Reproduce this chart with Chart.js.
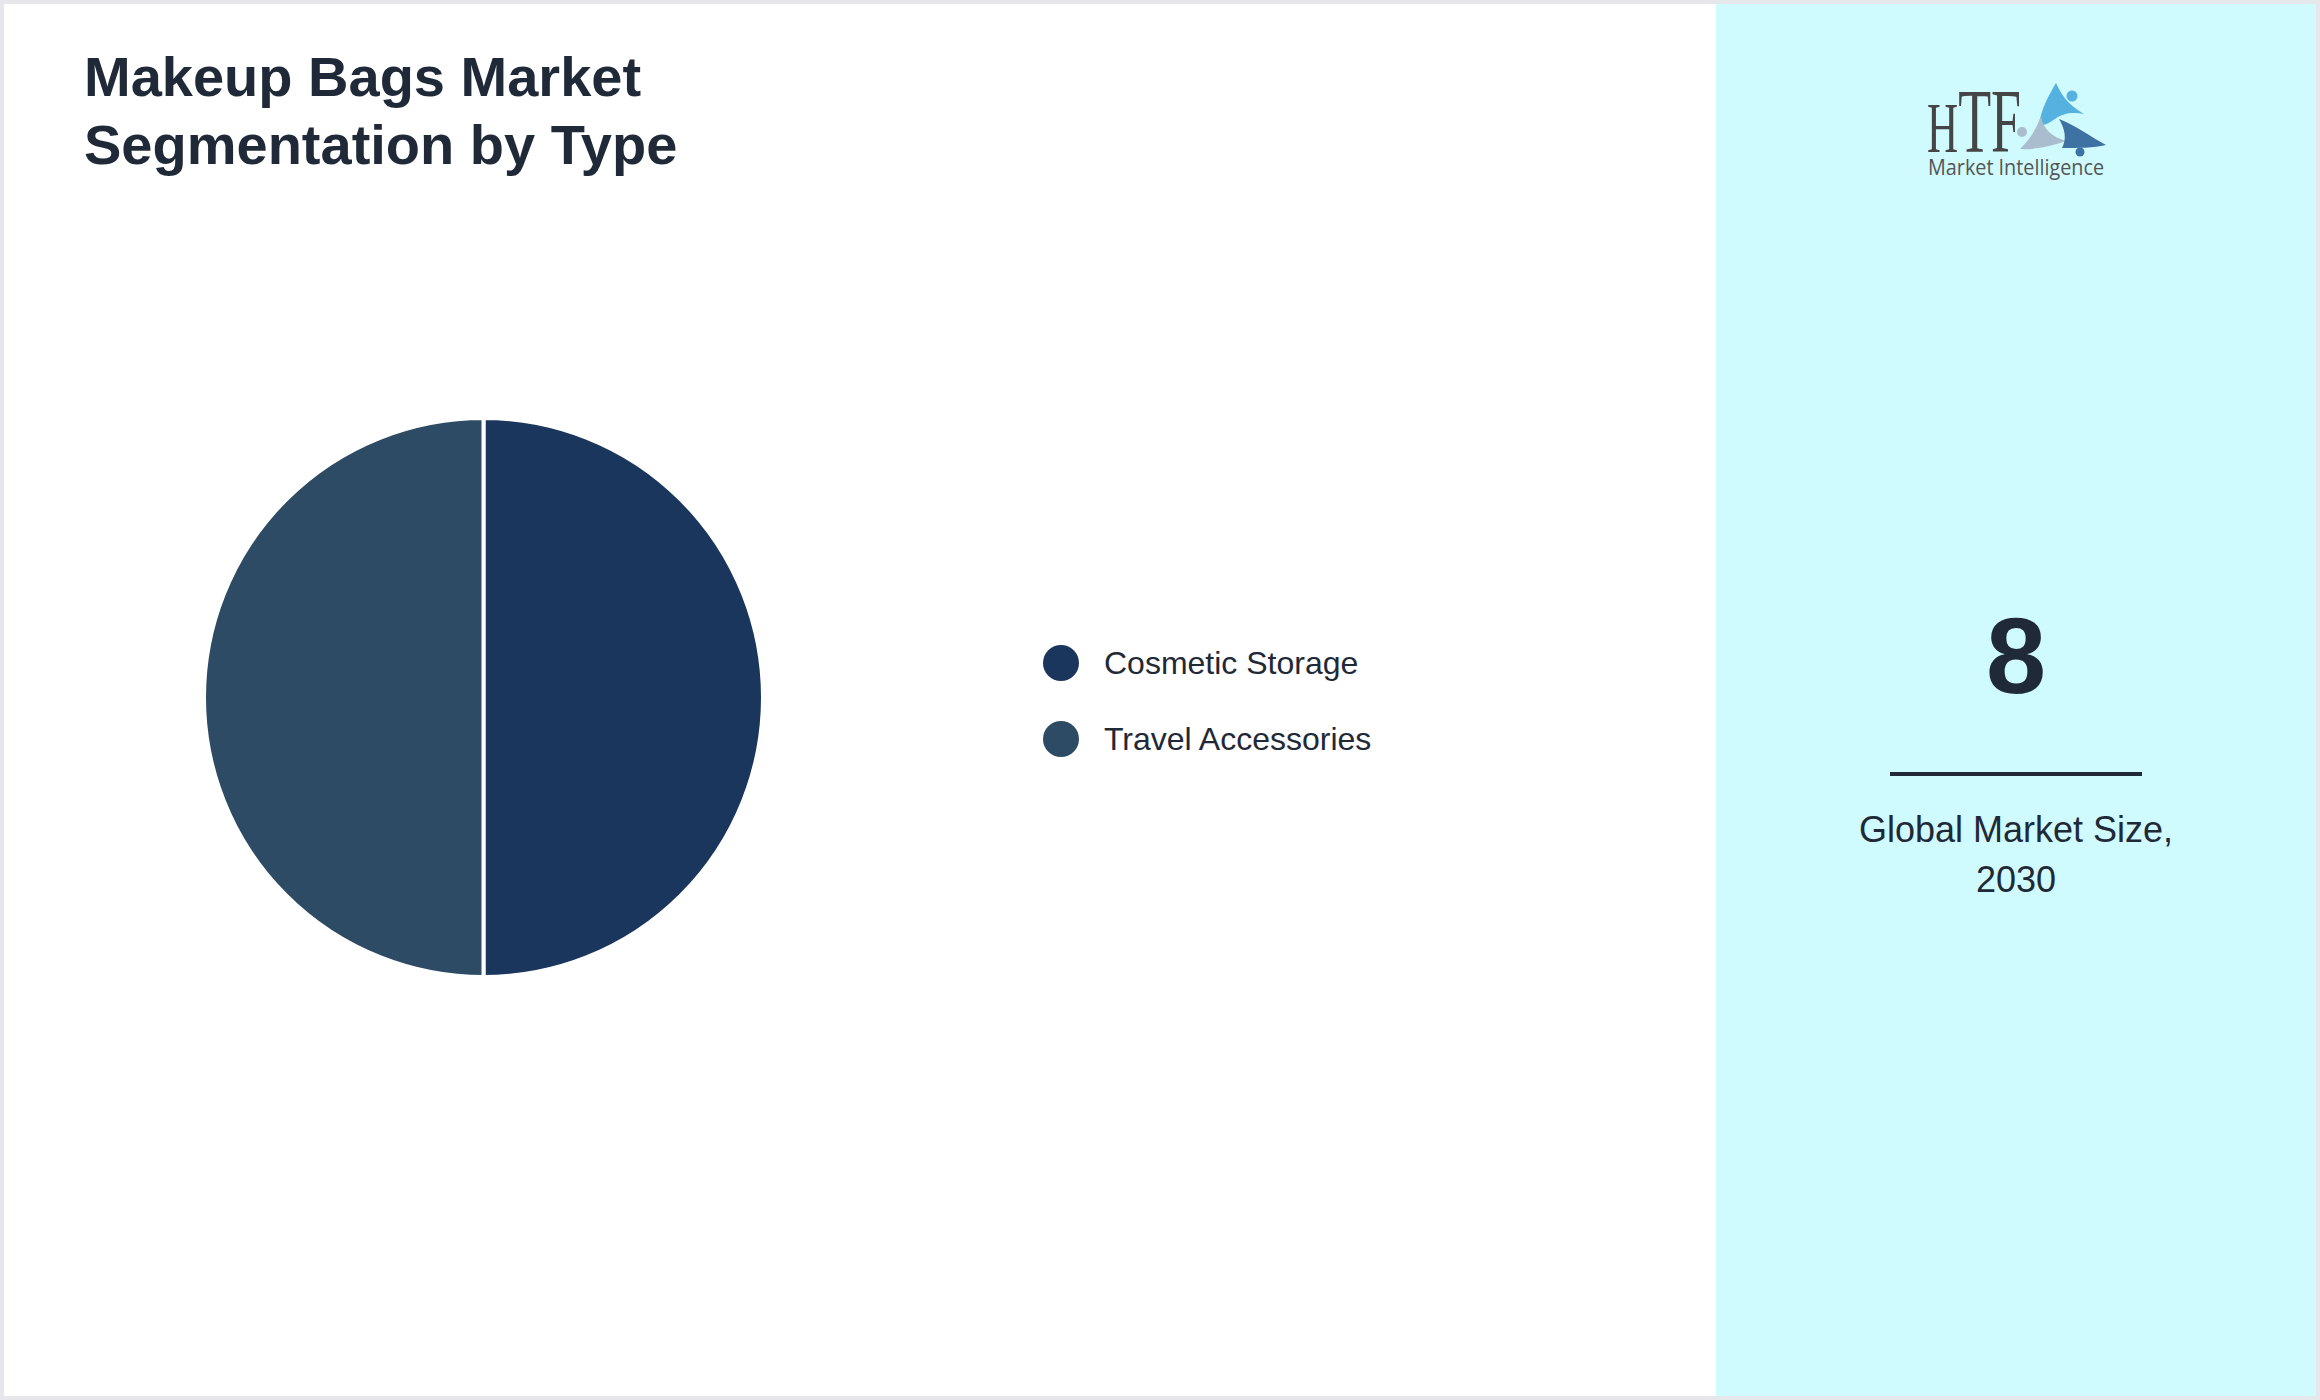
<!DOCTYPE html>
<html>
<head>
<meta charset="utf-8">
<script src="https://cdn.jsdelivr.net/npm/chart.js@4"></script>
<style>
  html, body { margin: 0; padding: 0; background: #ffffff; }
  body { width: 2320px; height: 1400px; position: relative; overflow: hidden;
         font-family: "Liberation Sans", Arial, Helvetica, sans-serif; color: #1f2937; }
  #frame { position: absolute; left: 0; top: 0; width: 2320px; height: 1400px;
           box-sizing: border-box; border: 4px solid #e5e7eb; background: #ffffff; }
  #panel { position: absolute; left: 1716px; top: 4px; width: 600px; height: 1392px; background: #cffafe; }
  #title { position: absolute; left: 84px; top: 43px; font-size: 56px; line-height: 68px;
           font-weight: bold; color: #1f2937; white-space: nowrap; }
  #pieBox { position: absolute; left: 202px; top: 416px; width: 563px; height: 563px; }
  #legend { position: absolute; left: 1043px; top: 645px; }
  .lg-row { position: absolute; left: 0; height: 36px; display: flex; align-items: center; white-space: nowrap; }
  .lg-dot { width: 36px; height: 36px; border-radius: 50%; }
  .lg-text { margin-left: 25px; font-size: 32px; line-height: 36px; color: #1f2937; }
  #bigValue { position: absolute; left: 1716px; width: 600px; top: 602px; text-align: center;
              font-size: 108px; line-height: 108px; font-weight: bold; color: #1f2937; }
  #rule { position: absolute; left: 1890px; top: 772px; width: 252px; height: 4px; background: #1f2937; }
  #caption { position: absolute; left: 1716px; width: 600px; top: 805px; text-align: center;
             font-size: 36px; line-height: 50px; color: #1f2937; }
  #logo { position: absolute; left: 1915px; top: 45px; width: 200px; height: 150px; }
</style>
</head>
<body>
<div id="frame"></div>
<div id="panel"></div>
<div id="title"></div>
<div id="pieBox"><canvas id="pie"></canvas></div>
<div id="legend"></div>
<svg id="logo" width="200" height="150" viewBox="0 0 200 150">
  <g transform="translate(0,30)">
    <text x="12" y="77" font-family="Liberation Serif, Times New Roman, serif" fill="#454545" textLength="94" lengthAdjust="spacingAndGlyphs"><tspan font-size="72">H</tspan><tspan font-size="90">TF</tspan></text>
    <path d="M124,50 C126,34 134,20 141,8 C146,19 152,29 169,39 C158,37 148,38 140,44 C134,48 129,51 124,50 Z" fill="#55b1e0"/>
    <circle cx="157" cy="21" r="5.5" fill="#55b1e0"/>
    <circle cx="123" cy="57" r="2.5" fill="#55b1e0"/>
    <path d="M151,66 C136,71 120,75 105,74 C114,65 121,55 126,41 C128,55 138,62 151,66 Z" fill="#aabdce"/>
    <circle cx="107" cy="57" r="5" fill="#aabdce"/>
    <path d="M144,44 C160,50 176,62 191,70 C178,73 164,73 147,73 C152,64 150,54 144,44 Z" fill="#3d72a3"/>
    <circle cx="165" cy="77" r="4.5" fill="#3d72a3"/>
    <text x="13" y="100" font-family="Open Sans, Liberation Sans, sans-serif" font-size="21" fill="#555" textLength="176" lengthAdjust="spacingAndGlyphs">Market Intelligence</text>
  </g>
</svg>
<div id="bigValue"></div>
<div id="rule"></div>
<div id="caption"></div>

<script>
// ---- data ----
const titleLines = ["Makeup Bags Market", "Segmentation by Type"];
const categories = ["Cosmetic Storage", "Travel Accessories"];
const shares = [50, 50];
const sliceColors = ["#1b365d", "#2e4b66"];
const marketSizeValue = "8";
const captionLines = ["Global Market Size,", "2030"];

// ---- text ----
document.getElementById("title").innerHTML = titleLines.join("<br>");
document.getElementById("bigValue").textContent = marketSizeValue;
document.getElementById("caption").innerHTML = captionLines.join("<br>");

const legend = document.getElementById("legend");
categories.forEach((c, i) => {
  const row = document.createElement("div");
  row.className = "lg-row";
  row.style.top = (i * 75.5) + "px";
  const dot = document.createElement("div");
  dot.className = "lg-dot";
  dot.style.background = sliceColors[i];
  const t = document.createElement("span");
  t.className = "lg-text";
  t.textContent = c;
  row.appendChild(dot);
  row.appendChild(t);
  legend.appendChild(row);
});

// ---- chart ----
new Chart(document.getElementById("pie"), {
  type: "pie",
  data: {
    labels: categories,
    datasets: [{
      data: shares,
      backgroundColor: sliceColors,
      borderColor: "#ffffff",
      borderWidth: 4,
      hoverOffset: 0,
      offset: 0
    }]
  },
  options: {
    responsive: true,
    maintainAspectRatio: false,
    animation: false,
    layout: { padding: 0 },
    plugins: {
      legend: { display: false },
      tooltip: { enabled: false },
      title: { display: false }
    }
  }
});
</script>
</body>
</html>
